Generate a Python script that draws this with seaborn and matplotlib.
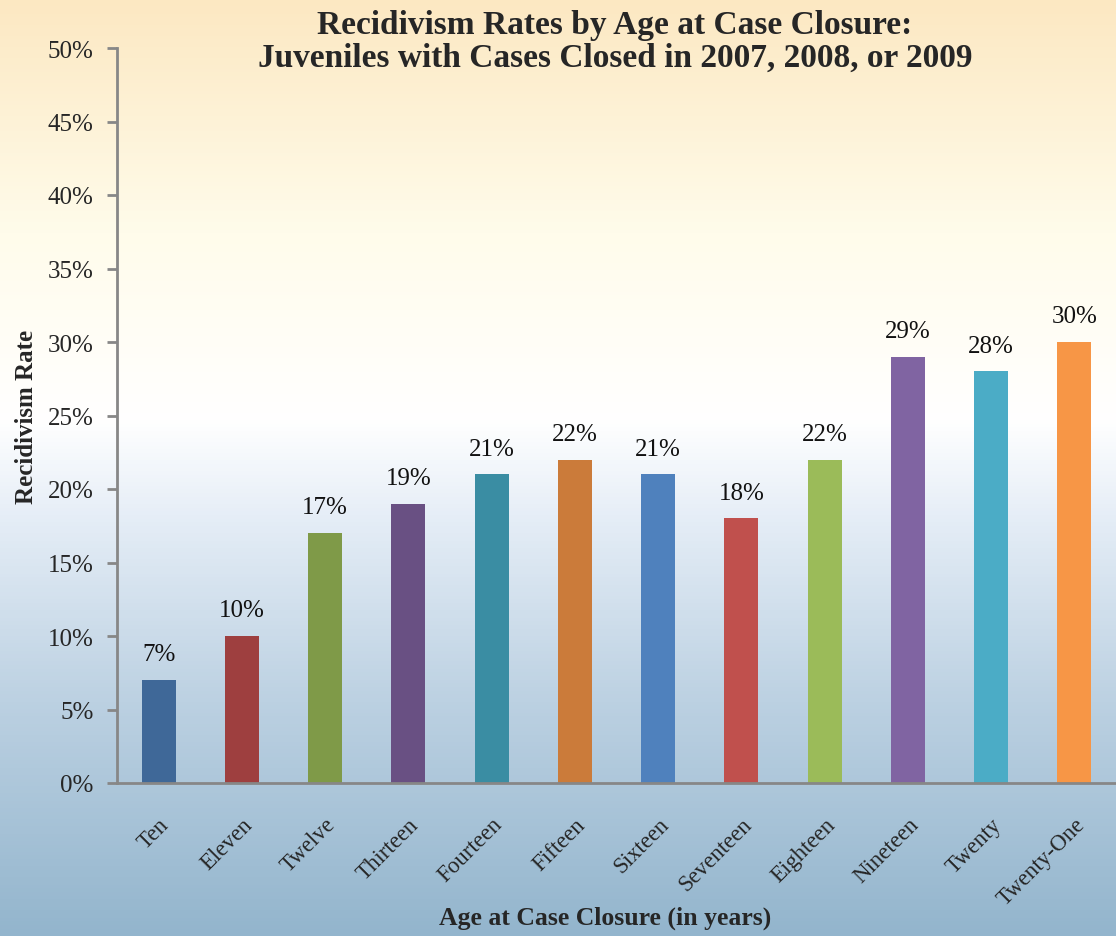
import numpy as np
import matplotlib
matplotlib.use("Agg")
import matplotlib.pyplot as plt
import seaborn as sns
import pandas as pd
from matplotlib.colors import LinearSegmentedColormap

ages = ["Ten", "Eleven", "Twelve", "Thirteen", "Fourteen", "Fifteen", "Sixteen",
        "Seventeen", "Eighteen", "Nineteen", "Twenty", "Twenty-One"]
rates = [7, 10, 17, 19, 21, 22, 21, 18, 22, 29, 28, 30]
colors = ["#3F6898", "#9E3F3F", "#7F9A48", "#695083", "#3A8DA3", "#CB7B3A",
          "#4F81BD", "#C0504D", "#9BBB59", "#8064A2", "#4BACC6", "#F79646"]
yticks = [0, 5, 10, 15, 20, 25, 30, 35, 40, 45, 50]

sns.set_theme(style="white")
plt.rcParams['font.family'] = ['Liberation Serif', 'DejaVu Serif']

fig = plt.figure(figsize=(11.16, 9.37), dpi=100)

# background gradient
bg = fig.add_axes([0, 0, 1, 1], zorder=-10)
grad_cmap = LinearSegmentedColormap.from_list(
    "bg", [(0.0, "#93B5CD"), (0.25, "#BCD1E2"), (0.45, "#E6EEF7"),
           (0.55, "#FFFFFF"), (0.75, "#FFFCEB"), (1.0, "#FCE8C2")])
grad = np.linspace(0, 1, 256).reshape(-1, 1)
bg.imshow(grad, aspect="auto", cmap=grad_cmap, origin="lower", extent=[0, 1, 0, 1])
bg.set_axis_off()

ax = fig.add_axes([117/1116, 1 - 784/937, 1 - 117/1116, (784 - 49)/937])
ax.patch.set_alpha(0)

df = pd.DataFrame({"age": ages, "rate": rates})
sns.barplot(data=df, x="age", y="rate", hue="age", palette=colors, legend=False,
            width=0.41, ax=ax, saturation=1, linewidth=0, edgecolor="none")

for i, v in enumerate(rates):
    ax.text(i, v + 1.0, f"{v}%", ha="center", va="bottom", fontsize=18, color="#111111")

ax.set_ylim(0, 50)
ax.set_xlim(-0.5, 11.5)
ax.set_yticks(yticks)
ax.set_yticklabels([f"{t}%" for t in yticks], fontsize=18)
ax.set_xticks(range(len(ages)))
ax.set_xticklabels(ages, rotation=45, ha="right", rotation_mode="anchor", fontsize=16.5)
ax.tick_params(axis="y", which="both", left=True, length=7, width=2, color="#878787", pad=10)
ax.tick_params(axis="x", bottom=False, pad=16)

for s in ["top", "right"]:
    ax.spines[s].set_visible(False)
for s in ["left", "bottom"]:
    ax.spines[s].set_color("#878787")
    ax.spines[s].set_linewidth(2)

ax.set_xlabel("")
ax.set_ylabel("Recidivism Rate", fontsize=18, fontweight="bold", labelpad=7)
fig.text(605/1116, 1 - 918/937, "Age at Case Closure (in years)", ha="center", va="center",
         fontsize=18.5, fontweight="bold")
fig.text(615/1116, 1 - 42/937,
         "Recidivism Rates by Age at Case Closure:\nJuveniles with Cases Closed in 2007, 2008, or 2009",
         ha="center", va="center", fontsize=24, fontweight="bold", linespacing=1.1)

fig.savefig("out.png", dpi=100)
